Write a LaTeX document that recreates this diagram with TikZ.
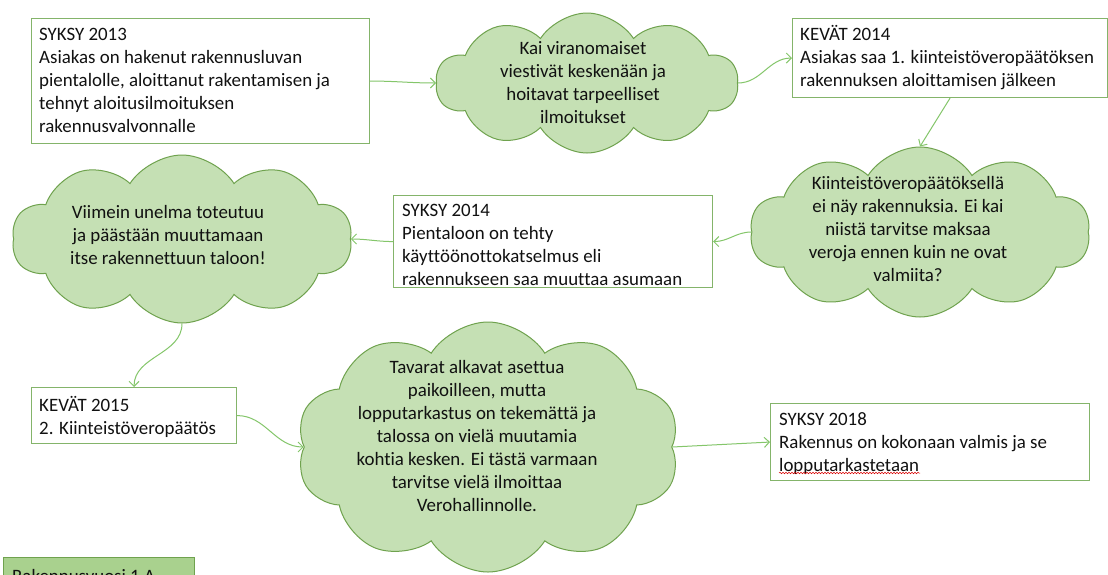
\documentclass[tikz,border=0pt]{standalone}
\usepackage{fontspec}
\setmainfont[Ligatures=NoCommon]{Carlito}
\usetikzlibrary{shapes.symbols,arrows.meta,decorations.pathmorphing}
\definecolor{boxline}{HTML}{84B46A}
\definecolor{cloudline}{HTML}{6FA24E}
\definecolor{cloudfill}{HTML}{C5E0B4}
\definecolor{arrowc}{HTML}{84C66A}
\definecolor{tagfill}{HTML}{A9D18E}
\definecolor{textc}{HTML}{111111}
\newcommand{\fl}{\rule{0pt}{16pt}}
\begin{document}
\begin{tikzpicture}[x=1pt,y=-1pt,
  box/.style={draw=boxline,line width=1.1pt,fill=white,inner sep=0pt,anchor=north west},
  txt/.style={font=\fontsize{18.9}{23}\selectfont,inner sep=0pt,align=left,anchor=north west,text=textc},
  cloudbox/.style={cloud,cloud puffs=10,cloud puff arc=115,cloud ignores aspect,draw=cloudline,fill=cloudfill,line width=1pt,inner sep=0pt},
  ctxt/.style={font=\fontsize{18.9}{23}\selectfont,inner sep=0pt,align=center,text=textc},
  conn/.style={draw=arrowc,line width=1pt,-{Straight Barb[length=5pt,width=10pt]}}]
\useasboundingbox (0,0) rectangle (1108,574);
\clip (0,0) rectangle (1108,574);
\fill[white] (0,0) rectangle (1108,574);

% boxes
\node[box,minimum width=338pt,minimum height=125pt] (b1) at (31,18) {};
\node[txt] (t1) at (39,24) {\fl SYKSY 2013\\Asiakas on hakenut rakennusluvan\\pientalolle, aloittanut rakentamisen ja\\tehnyt aloitusilmoituksen\\rakennusvalvonnalle};

\node[box,minimum width=315pt,minimum height=79pt] (b2) at (792,18) {};
\node[txt] (t2) at (800,24) {\fl KEVÄT 2014\\Asiakas saa 1. kiinteistöveropäätöksen\\rakennuksen aloittamisen jälkeen};

\node[box,minimum width=319pt,minimum height=92pt] (b3) at (393,195) {};
\node[txt] (t3) at (402,200) {\fl SYKSY 2014\\Pientaloon on tehty\\käyttöönottokatselmus eli\\rakennukseen saa muuttaa asumaan};

\node[box,minimum width=205pt,minimum height=56pt] (b4) at (31,387) {};
\node[txt] (t4) at (39,395) {\fl KEVÄT 2015\\2. Kiinteistöveropäätös};

\node[box,minimum width=319pt,minimum height=77pt] (b5) at (770,403) {};
\node[txt] (t5) at (779,409) {\fl SYKSY 2018\\Rakennus on kokonaan valmis ja se\\lopputarkastetaan};
\draw[red!85!black,line width=0.5pt,decorate,decoration={snake,amplitude=0.8pt,segment length=3pt}] (779,473) -- (920,473);

\node[box,draw=cloudline,fill=tagfill,minimum width=191pt,minimum height=40pt] (b6) at (3,557) {};
\node[txt] (t6) at (12,566) {\fl Rakennusvuosi 1 A};

% clouds
\node[cloudbox,minimum width=302pt,minimum height=140pt] (c1) at (587,83) {};
\node[ctxt] (ct1) at (583,83) {Kai viranomaiset\\viestivät keskenään ja\\hoitavat tarpeelliset\\ilmoitukset};

\node[cloudbox,minimum width=340pt,minimum height=170pt] (c2) at (920,232) {};
\node[ctxt] (ct2) at (908,229) {Kiinteistöveropäätöksellä\\ei näy rakennuksia. Ei kai\\niistä tarvitse maksaa\\veroja ennen kuin ne ovat\\valmiita?};

\node[cloudbox,minimum width=340pt,minimum height=168pt] (c3) at (182,239) {};
\node[ctxt] (ct3) at (168,235) {Viimein unelma toteutuu\\ja päästään muuttamaan\\itse rakennettuun taloon!};

\node[cloudbox,minimum width=383pt,minimum height=250pt] (c4) at (488,447) {};
\node[ctxt] (ct4) at (477,436) {Tavarat alkavat asettua\\paikoilleen, mutta\\lopputarkastus on tekemättä ja\\talossa on vielä muutamia\\kohtia kesken. Ei tästä varmaan\\tarvitse vielä ilmoittaa\\Verohallinnolle.};

% connectors
\draw[conn] (b1.east) to[out=0,in=180] (c1.west);
\draw[conn] (c1.east) to[out=0,in=180] (b2.west);
\draw[conn] (b2.south) -- (c2.north);
\draw[conn] (c2.west) to[out=180,in=0] (b3.east);
\draw[conn] (b3.west) to[out=180,in=0] (c3.east);
\draw[conn] (c3.south) to[out=-90,in=90] (b4.north);
\draw[conn] (b4.east) to[out=0,in=180] (c4.west);
\draw[conn] (c4.east) -- (b5.west);
\end{tikzpicture}
\end{document}
